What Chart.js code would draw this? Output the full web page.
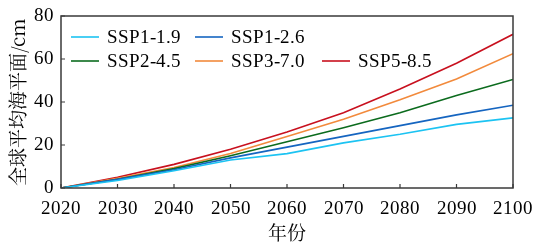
<!DOCTYPE html>
<html>
<head>
<meta charset="utf-8">
<script src="https://cdn.jsdelivr.net/npm/chart.js@4"></script>
<style>
  html, body { margin: 0; padding: 0; background: #fff; }
  #wrap { width: 536px; height: 244px; position: relative; }
</style>
</head>
<body>
<div id="wrap"><canvas id="myChart"></canvas></div>
<script>
// years and sea level rise (cm) per scenario
var years = [2020, 2030, 2040, 2050, 2060, 2070, 2080, 2090, 2100];
var ssp119 = [0, 3.5, 8, 13, 16, 21, 25, 29.6, 32.6];
var ssp126 = [0, 4, 8.5, 14, 19, 24, 29, 34, 38.5];
var ssp245 = [0, 4, 9, 15, 21.5, 28, 35, 43, 50.5];
var ssp370 = [0, 4.5, 9.5, 16, 24, 32, 41, 50.7, 62.5];
var ssp585 = [0, 5, 11, 18, 26, 35, 46, 58, 71.5];
var names = ["SSP1-1.9", "SSP1-2.6", "SSP2-4.5", "SSP3-7.0", "SSP5-8.5"];
var lineColors = ["#1cc3f2", "#1565c0", "#0b6b1d", "#f28a3c", "#c8101e"];
var yTicks = [0, 20, 40, 60, 80];

var serif = 'ChartSerif, "Liberation Serif", serif';
var cjk = 'ChartCJK, "Noto Serif CJK SC", "Noto Sans CJK SC", serif';

function pts(vals) {
    return years.map(function (y, i) { return { x: y, y: vals[i] }; });
}

var allSeries = [ssp119, ssp126, ssp245, ssp370, ssp585];
var datasets = allSeries.map(function (s, i) {
    return {
        label: names[i],
        data: pts(s),
        borderColor: lineColors[i],
        backgroundColor: lineColors[i],
        borderWidth: 1.6,
        pointRadius: 0,
        tension: 0
    };
});

// legend slots (inside the plot, two rows)
var legendPos = [[71, 37], [195, 37], [71, 61], [195, 61], [322, 61]];

var framePlugin = {
    id: 'frame',
    afterDraw: function (chart) {
        var ctx = chart.ctx;
        var a = chart.chartArea;
        var xs = chart.scales.x, ys = chart.scales.y;
        ctx.save();
        ctx.strokeStyle = '#3a3a3a';
        ctx.lineWidth = 1.5;
        ctx.strokeRect(a.left, a.top, a.right - a.left, a.bottom - a.top);
        ctx.lineWidth = 1.2;
        ctx.beginPath();
        xs.ticks.forEach(function (t) {
            var px = xs.getPixelForValue(t.value);
            ctx.moveTo(px, a.bottom);
            ctx.lineTo(px, a.bottom - 4);
        });
        ys.ticks.forEach(function (t) {
            var py = ys.getPixelForValue(t.value);
            ctx.moveTo(a.left, py);
            ctx.lineTo(a.left + 4, py);
        });
        ctx.stroke();

        // legend
        ctx.font = '19px ' + serif;
        ctx.textBaseline = 'middle';
        ctx.textAlign = 'left';
        chart.data.datasets.forEach(function (ds, i) {
            var p = legendPos[i];
            ctx.strokeStyle = ds.borderColor;
            ctx.lineWidth = 1.6;
            ctx.beginPath();
            ctx.moveTo(p[0], p[1]);
            ctx.lineTo(p[0] + 28, p[1]);
            ctx.stroke();
            ctx.fillStyle = '#000';
            ctx.fillText(ds.label, p[0] + 36, p[1] + 1);
        });
        ctx.restore();
    }
};

function draw() {
    new Chart(document.getElementById('myChart'), {
        type: 'line',
        data: { datasets: datasets },
        plugins: [framePlugin],
        options: {
            responsive: true,
            maintainAspectRatio: false,
            animation: false,
            layout: { padding: { top: 16, right: 23, left: 0, bottom: 0 } },
            plugins: { legend: { display: false }, tooltip: { enabled: false } },
            scales: {
                x: {
                    type: 'linear',
                    min: 2020,
                    max: 2100,
                    border: { display: false },
                    grid: { display: false, drawTicks: false },
                    ticks: {
                        stepSize: 10,
                        color: '#000',
                        padding: 10,
                        maxRotation: 0,
                        font: { family: serif, size: 19 },
                        callback: function (v) { return String(v); }
                    },
                    title: {
                        display: true,
                        text: '年份',
                        color: '#000',
                        padding: 0,
                        font: { family: cjk, size: 19 }
                    },
                    afterFit: function (s) {
                        s.height = 56;
                        s.paddingLeft = 0;
                        s.paddingRight = 0;
                    }
                },
                y: {
                    min: 0,
                    max: 80,
                    border: { display: false },
                    grid: { display: false, drawTicks: false },
                    afterBuildTicks: function (s) {
                        s.ticks = yTicks.map(function (v) { return { value: v }; });
                    },
                    ticks: {
                        color: '#000',
                        padding: 7,
                        font: { family: serif, size: 19 }
                    },
                    title: {
                        display: true,
                        text: '全球平均海平面/cm',
                        color: '#000',
                        padding: 6,
                        font: { family: cjk, size: 19 }
                    },
                    afterFit: function (s) {
                        s.width = 61;
                        s.paddingTop = 0;
                        s.paddingBottom = 0;
                    }
                }
            }
        }
    });
}

var faces = [
    new FontFace('ChartSerif', 'local("Liberation Serif")'),
    new FontFace('ChartCJK', 'local("Noto Serif CJK SC"), local("Noto Sans CJK SC")')
];
Promise.all(faces.map(function (f) {
    return f.load().then(function (ff) { document.fonts.add(ff); }, function () {});
})).then(draw, draw);
</script>
</body>
</html>
